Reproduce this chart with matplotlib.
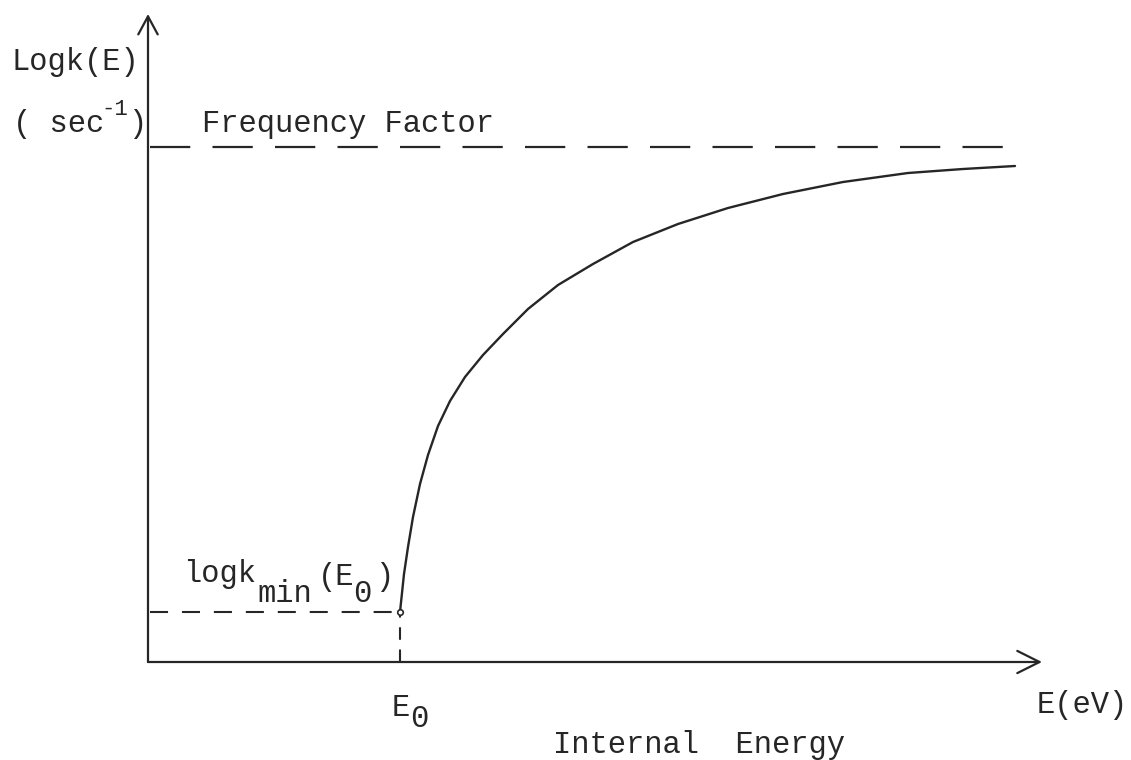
import numpy as np
import matplotlib
matplotlib.use('Agg')
import matplotlib.pyplot as plt

# typewriter look
plt.rcParams['font.family'] = ['Liberation Mono', 'DejaVu Sans Mono']
plt.rcParams['lines.scale_dashes'] = False

# curve (internal energy, log k), arbitrary units
energy = [2.52, 2.56, 2.60, 2.65, 2.72, 2.80, 2.90, 3.02, 3.17, 3.35,
          3.55, 3.80, 4.10, 4.45, 4.85, 5.30, 5.80, 6.35, 6.95, 7.60,
          8.15, 8.67]
logk = [0.50, 0.88, 1.15, 1.45, 1.78, 2.07, 2.36, 2.61, 2.85, 3.07,
        3.28, 3.53, 3.77, 3.98, 4.20, 4.38, 4.54, 4.68, 4.80, 4.89,
        4.93, 4.96]

freq_factor = 5.15
e0 = energy[0]
logk_min = logk[0]
e_max = 8.94
logk_max = 6.48

ink = '#262626'

fig = plt.figure(figsize=(11.31, 7.6), dpi=100)
ax = fig.add_axes([0, 0, 1, 1])
ax.set_xlim(-1.48, 9.83)
ax.set_ylim(-0.98, 6.62)
ax.axis('off')

# axes with open arrow heads
ax.annotate('', xy=(e_max, 0), xytext=(0, 0),
            arrowprops=dict(arrowstyle='->,head_length=0.8,head_width=0.4',
                            color=ink, lw=1.6, shrinkA=0, shrinkB=0,
                            mutation_scale=20))
ax.annotate('', xy=(0, logk_max), xytext=(0, 0),
            arrowprops=dict(arrowstyle='->,head_length=0.65,head_width=0.35',
                            color=ink, lw=1.6, shrinkA=0, shrinkB=0,
                            mutation_scale=20))

# frequency factor asymptote
ax.plot([0.02, energy[-1]], [freq_factor, freq_factor], color=ink, lw=1.6,
        dashes=(29, 16))
# log k_min and E0 guides
ax.plot([0.02, e0], [logk_min, logk_min], color=ink, lw=1.5, dashes=(13, 10))
ax.plot([e0, e0], [0, logk_min], color=ink, lw=1.5, dashes=(9, 7))

# the k(E) curve
ax.plot(energy, logk, color=ink, lw=1.7, solid_capstyle='round',
        solid_joinstyle='round')
ax.plot(energy[:1], logk[:1], 'o', ms=4, mfc='white', mec=ink, mew=1.2)

fs = 22
kw = dict(color=ink, fontsize=fs, va='baseline', ha='left')
ax.text(-1.36, 5.92, 'Logk(E)', **kw)
ax.text(-1.35, 5.30, '( sec', **kw)
ax.text(-0.47, 5.47, '-1', color=ink, fontsize=16, va='baseline')
ax.text(-0.20, 5.30, ')', **kw)
ax.text(0.54, 5.30, 'Frequency Factor', **kw)

ax.text(0.35, 0.80, 'logk', **kw)
ax.text(1.09, 0.60, 'min', **kw)
ax.text(1.70, 0.77, '(E', **kw)
ax.text(2.05, 0.60, '0', **kw)
ax.text(2.27, 0.77, ')', **kw)

ax.text(2.44, -0.54, 'E', **kw)
ax.text(2.62, -0.65, '0', **kw)
ax.text(8.89, -0.51, 'E(eV)', **kw)
ax.text(4.05, -0.91, 'Internal  Energy', **kw)

fig.savefig('out.png', dpi=100, facecolor='white')
